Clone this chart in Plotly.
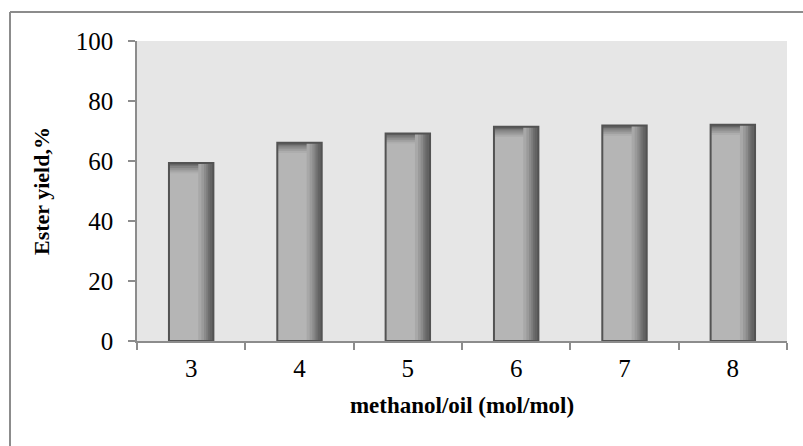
import plotly.graph_objects as go

categories = ["3", "4", "5", "6", "7", "8"]
ester_yield = [59.3, 66.1, 69.2, 71.4, 71.8, 72.1]
y_ticks = [0, 20, 40, 60, 80, 100]

W = 0.41
fig = go.Figure()

def add_bar(y, width, offset, color, base=None):
    fig.add_trace(go.Bar(x=categories, y=y, base=base, width=width, offset=offset,
                         marker=dict(color=color, line=dict(width=0)),
                         hoverinfo="skip", showlegend=False))

# base fill
add_bar(ester_yield, W, -W/2, "#b5b5b5")

# top shading strips
top_depths = [3.4, 2.8, 2.2, 1.6, 1.0, 0.5]
top_cols = ["#adadad", "#a0a0a0", "#929292", "#838383", "#737373", "#656565"]
for d, c in zip(top_depths, top_cols):
    add_bar([d]*len(ester_yield), W, -W/2, c, base=[v - d for v in ester_yield])

# right-side shading strips
strip_fracs = [0.66, 0.73, 0.79, 0.84, 0.88, 0.92]
strip_cols = ["#a8a8a8", "#9a9a9a", "#8b8b8b", "#7b7b7b", "#6e6e6e", "#636363"]
for f, c in zip(strip_fracs, strip_cols):
    add_bar(ester_yield, W*(1-f), -W/2+W*f, c)

# outline on top
fig.add_trace(go.Bar(x=categories, y=ester_yield, width=W, offset=-W/2,
                     marker=dict(color="rgba(0,0,0,0)", line=dict(color="#535353", width=2)),
                     hoverinfo="skip", showlegend=False))

fig.update_layout(
    width=803, height=446,
    margin=dict(l=137, r=16, t=41, b=105),
    paper_bgcolor="white",
    plot_bgcolor="#e6e6e6",
    barmode="overlay",
    font=dict(family="Liberation Serif, Times New Roman, serif", color="black"),
    xaxis=dict(
        type="category",
        tickson="boundaries",
        ticks="outside", ticklen=7, tickcolor="#8c8c8c", tickwidth=1.5,
        showline=True, linecolor="#8c8c8c", linewidth=1.5,
        showgrid=False, zeroline=False,
        tickfont=dict(size=25),
        ticklabelstandoff=4,
        title=dict(text="<b>methanol/oil (mol/mol)</b>", font=dict(size=23), standoff=16),
    ),
    yaxis=dict(
        range=[0, 100],
        tickvals=y_ticks,
        ticks="outside", ticklen=7, tickcolor="#8c8c8c", tickwidth=1.5,
        showline=True, linecolor="#8c8c8c", linewidth=1.5,
        showgrid=False, zeroline=False,
        tickfont=dict(size=25),
        ticklabelstandoff=10,
        title=dict(text="<b>Ester yield,%</b>", font=dict(size=22), standoff=20),
    ),
    shapes=[
        dict(type="line", xref="paper", yref="paper",
             x0=-127/650, x1=(803 - 137 + 30)/650, y0=1 + 29/300, y1=1 + 29/300,
             line=dict(color="#8c8c8c", width=2)),
        dict(type="line", xref="paper", yref="paper",
             x0=-127/650, x1=-127/650, y0=1 + 29/300, y1=-130/300,
             line=dict(color="#8c8c8c", width=2)),
    ],
)

fig.write_html("out.html")
